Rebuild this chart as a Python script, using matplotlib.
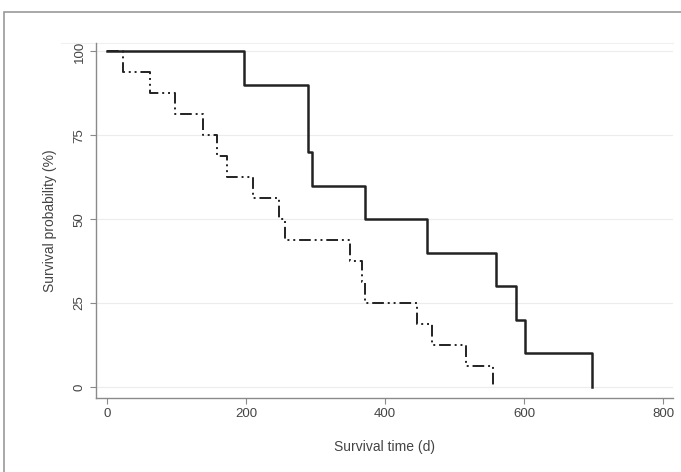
import matplotlib
matplotlib.use("Agg")
import matplotlib.pyplot as plt
from matplotlib.patches import Rectangle

# Kaplan-Meier steps
t_solid = [0, 197, 289, 295, 371, 460, 560, 588, 601, 697]
s_solid = [100, 90, 70, 60, 50, 40, 30, 20, 10, 0]

t_dash = [0, 23, 62, 98, 138, 158, 173, 210, 247, 256, 350, 367, 371, 446, 467, 516, 555]
s_dash = [100, 93.75, 87.5, 81.25, 75, 68.75, 62.5, 56.25, 50, 43.75,
          37.5, 31.25, 25, 18.75, 12.5, 6.25, 0]

xticks = [0, 200, 400, 600, 800]
yticks = [0, 25, 50, 75, 100]

plt.rcParams['font.family'] = ['Liberation Sans', 'DejaVu Sans']

fig = plt.figure(figsize=(6.81, 4.72), dpi=100)
fig.patches.append(Rectangle((4/681, -0.05), 1.2, 1 - 12/472 + 0.05,
                             transform=fig.transFigure, fill=False,
                             edgecolor='#9a9a9a', linewidth=1.2))
ax = fig.add_axes([96/681, 1 - 398/472, 577/681, 355/472])

for y in yticks:
    ax.axhline(y, color='#ececec', linewidth=0.8, zorder=0)
ax.axhline(102.5, xmin=-0.06, color='#f0f0f0', linewidth=0.8, zorder=0, clip_on=False)

ax.step(t_dash, s_dash, where='post', color='#222222', linewidth=1.4,
        linestyle=(0, (6, 2, 1, 2, 1, 2)), zorder=2)
ax.step(t_solid, s_solid, where='post', color='#222222', linewidth=1.8, zorder=3)

ax.set_xlim(-16, 814)
ax.set_ylim(-3.3, 102.5)
ax.set_xticks(xticks)
ax.set_yticks(yticks)
ax.set_yticklabels([str(v) for v in yticks], rotation=90, va='center')

for side in ['top', 'right']:
    ax.spines[side].set_visible(False)
for side in ['left', 'bottom']:
    ax.spines[side].set_color('#8a8a8a')
    ax.spines[side].set_linewidth(1.0)
ax.tick_params(colors='#8a8a8a', labelcolor='#444444', labelsize=9.5, length=4)

ax.set_xlabel('Survival time (d)', fontsize=10, color='#444444', labelpad=14)
ax.set_ylabel('Survival probability (%)', fontsize=10, color='#444444', labelpad=12)

fig.savefig('out.png', dpi=100)
